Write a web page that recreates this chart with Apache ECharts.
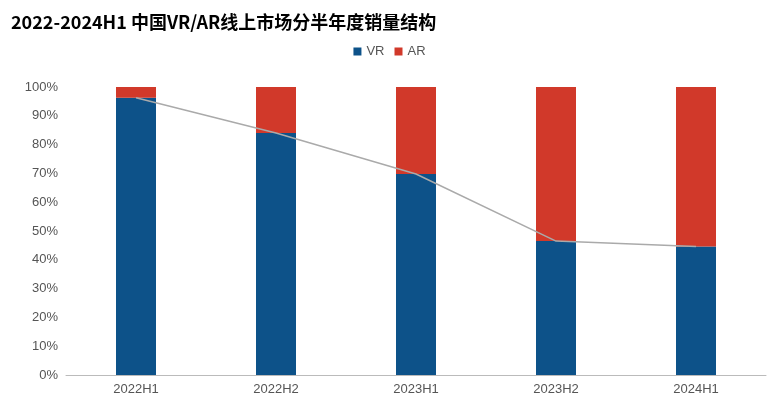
<!DOCTYPE html><html><head><meta charset="utf-8"><script src="https://cdn.jsdelivr.net/npm/echarts@6/dist/echarts.min.js"></script></head><body style="margin:0"><div id="c" style="width:779px;height:413px"></div><script>
const categories=['2022H1','2022H2','2023H1','2023H2','2024H1'];
const vr=[96.3,84,69.8,46.5,44.6];
const ar=[3.7,16,30.2,53.5,55.4];
const c=echarts.init(document.getElementById('c'));
c.setOption({
title:{text:'2022-2024H1 中国VR/AR线上市场分半年度销量结构',left:6,top:8,textStyle:{fontSize:18,fontWeight:'bold',color:'#000',fontFamily:'Noto Sans CJK SC'}},
legend:{data:['VR','AR'],top:40,left:'center',itemWidth:8,itemHeight:8,itemGap:10,textStyle:{fontSize:13,color:'#555'},icon:'rect'},
grid:{left:66,right:13,top:87,bottom:38},
xAxis:{type:'category',data:categories,axisTick:{show:false},axisLine:{lineStyle:{color:'#bbb'}},axisLabel:{color:'#555',fontSize:13}},
yAxis:{type:'value',min:0,max:100,interval:10,axisLabel:{formatter:'{value}%',color:'#555',fontSize:13},splitLine:{show:false},axisLine:{show:false}},
series:[
{name:'VR',type:'bar',stack:'s',data:vr,barWidth:40,itemStyle:{color:'#0d5289'}},
{name:'AR',type:'bar',stack:'s',data:ar,barWidth:40,itemStyle:{color:'#d1392a'}},
{name:'line',type:'line',data:vr,symbol:'none',lineStyle:{color:'#aaa',width:1.5},z:5}
]});
</script></body></html>
